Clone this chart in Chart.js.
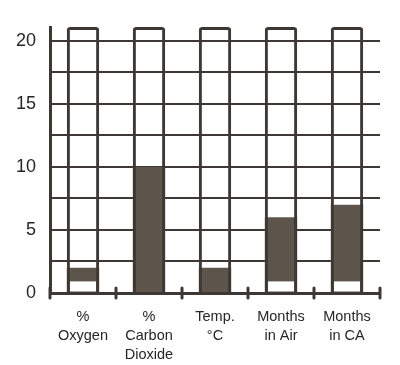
<!DOCTYPE html>
<html>
<head>
<meta charset="utf-8">
<script src="https://cdn.jsdelivr.net/npm/chart.js@4"></script>
<style>
  html,body{margin:0;padding:0;background:#fff;}
  #wrap{position:relative;width:400px;height:365px;}
</style>
</head>
<body>
<div id="wrap"><canvas id="c"></canvas></div>
<script>
const CATEGORIES = [['%','Oxygen'],['%','Carbon','Dioxide'],['Temp.','°C'],['Months','in Air'],['Months','in CA']];
const VALUES = [2, 10, 2, 6, 7];
// every column is drawn as an empty frame running up past 20
const FRAME_TOP = [21.1, 21.1, 21.1, 21.1, 21.1];
// light gap showing near the base of some filled columns in the scan
const BASE_GAP = [[0.12, 0.92], null, null, [0.12, 0.92], [0.12, 0.92]];
const Y_GRID = [0, 2.5, 5, 7.5, 10, 12.5, 15, 17.5, 20];
const Y_LABELS = [0, 5, 10, 15, 20];

const INK = '#3d3834';
const FILL = '#5d544c';
const TXT = '#262626';
const FONT = "'Liberation Sans', Arial, sans-serif";

// short ticks crossing the x axis at the category boundaries
const crossTicks = {
  id: 'crossTicks',
  afterDraw(chart){
    const xs = chart.scales.x, ctx = chart.ctx, y0 = chart.chartArea.bottom;
    const step = xs.getPixelForValue(1) - xs.getPixelForValue(0);
    ctx.save();
    ctx.strokeStyle = INK; ctx.lineWidth = 3; ctx.lineCap = 'round';
    for(let i = -1; i < CATEGORIES.length; i++){
      const x = xs.getPixelForValue(i) + step/2;
      ctx.beginPath(); ctx.moveTo(x, y0 - 5); ctx.lineTo(x, y0 + 5); ctx.stroke();
    }
    ctx.restore();
  }
};

new Chart(document.getElementById('c'), {
  type: 'bar',
  data: {
    labels: CATEGORIES,
    datasets: [
      {data: FRAME_TOP, backgroundColor: 'rgba(0,0,0,0)', borderColor: INK, borderWidth: 3,
       borderRadius: {topLeft: 3, topRight: 3}, borderSkipped: 'start', barPercentage: 0.49},
      {data: BASE_GAP, backgroundColor: '#fff', borderWidth: 0, barPercentage: 0.40},
      {data: VALUES, backgroundColor: FILL, borderWidth: 0, barPercentage: 0.49}
    ]
  },
  options: {
    responsive: true, maintainAspectRatio: false, animation: false,
    layout: {padding: {top: 27, right: 20, left: 0, bottom: 0}},
    datasets: {bar: {grouped: false, categoryPercentage: 1}},
    plugins: {legend: {display: false}, tooltip: {enabled: false}},
    scales: {
      x: {
        grid: {display: false, drawTicks: false},
        border: {display: true, color: INK, width: 3},
        ticks: {color: TXT, font: {family: FONT, size: 14.5, lineHeight: 1.3}, padding: 15,
                maxRotation: 0, autoSkip: false},
        afterFit(s){ s.height = 72; }
      },
      y: {
        min: 0, max: 21.1,
        afterBuildTicks(s){ s.ticks = Y_GRID.map(v => ({value: v})); },
        ticks: {color: TXT, font: {family: FONT, size: 18}, padding: 14,
                callback: v => Y_LABELS.includes(v) ? String(v) : ''},
        grid: {drawTicks: false, lineWidth: 2, color: INK},
        border: {display: true, color: INK, width: 3},
        afterFit(s){ s.width = 50; }
      }
    }
  },
  plugins: [crossTicks]
});
</script>
</body>
</html>
